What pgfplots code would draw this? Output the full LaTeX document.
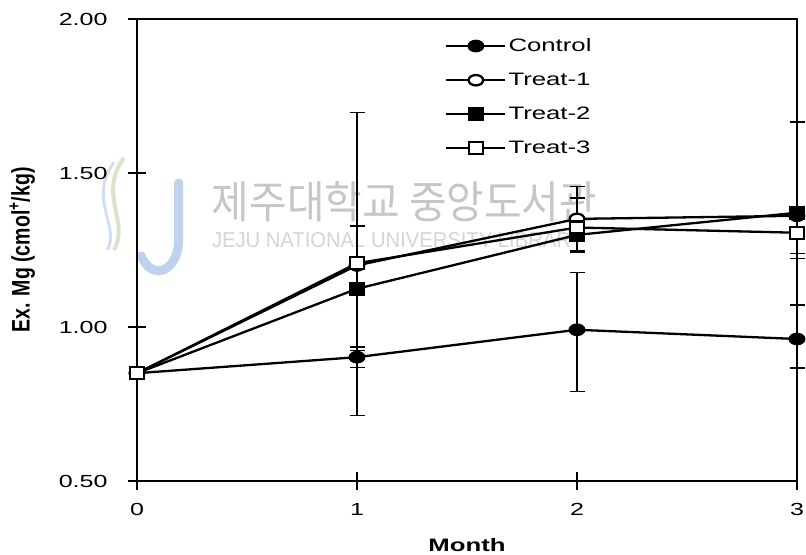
\documentclass[border=0pt]{standalone}
\usepackage{pgfplots}
\pgfplotsset{compat=1.18}
\usepackage{graphicx}
\usepackage{fontspec}
\setmainfont{Liberation Sans}[FakeStretch=1.43]
\newfontfamily\plainsans{Liberation Sans}
\newfontfamily\krfont{Noto Sans CJK KR}
\definecolor{wmgray}{RGB}{198,198,198}
\definecolor{wmgray2}{RGB}{212,212,212}
\definecolor{wmblue}{RGB}{190,210,235}
\definecolor{wmgreen}{RGB}{215,230,200}
\begin{document}
\begin{tikzpicture}
\begin{axis}[
  name=ax,
  set layers,
  clip=false,
  scale only axis, width=660pt, height=462pt,
  xmin=0, xmax=3, ymin=0.5, ymax=2,
  xtick={0,1,2,3}, ytick={0.5,1,1.5,2},
  tick align=center, major tick length=18pt,
  xtick pos=bottom, ytick pos=left,
  axis line style={line width=1.8pt},
  every tick/.style={black, line width=1.5pt},
  /pgf/number format/assume math mode=true,
  yticklabel style={xshift=-17pt, /pgf/number format/.cd, fixed, fixed zerofill, precision=2},
  xticklabel style={yshift=-10pt},
  tick label style={font=\fontsize{17.5}{20}\selectfont},
  xlabel={Month},
  xlabel style={font=\fontsize{18}{20}\selectfont\bfseries, at={(rel axis cs:0.5,-0.1385)}, anchor=center},
  ylabel={Ex. Mg (cmol\textsuperscript{+}/kg)},
  ylabel style={font=\plainsans\bfseries\fontsize{19.5}{22}\selectfont, at={(rel axis cs:-0.174,0.5)}, anchor=center, yscale=1.3},
  legend style={draw=none, fill=none, at={(0.4667,0.962)}, anchor=north west,
    font=\fontsize{18}{20}\selectfont, row sep=16pt, inner sep=0pt, nodes={inner sep=2pt}},
  legend cell align=left,
  legend image code/.code={\draw[mark repeat=2,mark phase=2] plot coordinates {(0pt,0pt) (29.5pt,0pt) (59pt,0pt)};},
  error bars/y dir=both, error bars/y explicit,
  error bars/error bar style={line width=2pt, solid, black},
  error bars/error mark options={rotate=90, mark size=7.5pt, line width=1.6pt, black},
]
\begin{pgfonlayer}{axis background}
\node[wmgray, inner sep=0pt] at (rel axis cs:0.4053,0.605) {\resizebox{385pt}{37pt}{\krfont 제주대학교 중앙도서관}};
\node[wmgray2, inner sep=0pt] at (rel axis cs:0.3955,0.5216) {\resizebox{372pt}{15pt}{\plainsans JEJU NATIONAL UNIVERSITY LIBRARY}};
\draw[wmblue, line width=9pt, line cap=round] (rel axis cs:0.063,0.645) -- (rel axis cs:0.063,0.52) arc[start angle=0, end angle=-150, x radius=20pt, y radius=30pt];
\draw[wmgreen, line width=4pt] (rel axis cs:-0.02,0.70) .. controls (rel axis cs:-0.06,0.62) and (rel axis cs:-0.01,0.56) .. (rel axis cs:-0.035,0.50);
\draw[wmblue!70, line width=3pt] (rel axis cs:-0.035,0.69) .. controls (rel axis cs:-0.075,0.61) and (rel axis cs:-0.025,0.55) .. (rel axis cs:-0.045,0.50);
\end{pgfonlayer}
% Control
\addplot[black, line width=2.3pt, mark=*, mark size=5.2pt, mark options={xscale=1.4, fill=black, solid}]
 coordinates {(0,0.85) +- (0,0) (1,0.902) += (0,0.033) -= (0,0.033) (2,0.991) += (0,0.186) -= (0,0.200) (3,0.961) += (0,0.110) -= (0,0.094)};
\addlegendentry{Control}
% Treat-1
\addplot[black, line width=2.3pt, mark=*, mark size=5.2pt, mark options={xscale=1.4, fill=white, solid}]
 coordinates {(0,0.85) +- (0,0) (1,1.200) += (0,0.496) -= (0,0.487) (2,1.351) += (0,0.105) -= (0,0.105) (3,1.361) += (0,0.305) -= (0,0.122)};
\addlegendentry{Treat-1}
% Treat-2
\addplot[black, line width=2.3pt, mark=square*, mark size=6pt, mark options={xscale=1.17, fill=black, solid}]
 coordinates {(0,0.85) +- (0,0) (1,1.124) += (0,0.204) -= (0,0.200) (2,1.299) += (0,0.020) -= (0,0.020) (3,1.371) += (0,0.020) -= (0,0.020)};
\addlegendentry{Treat-2}
% Treat-3
\addplot[black, line width=2.3pt, mark=square*, mark size=6pt, mark options={xscale=1.17, fill=white, solid}]
 coordinates {(0,0.85) +- (0,0) (1,1.207) += (0,0.010) -= (0,0.010) (2,1.323) += (0,0.095) -= (0,0.080) (3,1.306) += (0,0.083) -= (0,0.083)};
\addlegendentry{Treat-3}
\end{axis}
\pgfresetboundingbox
\path[use as bounding box] ([xshift=-137pt,yshift=-74pt]ax.south west) rectangle ([xshift=9pt,yshift=19pt]ax.north east);
\end{tikzpicture}
\end{document}
